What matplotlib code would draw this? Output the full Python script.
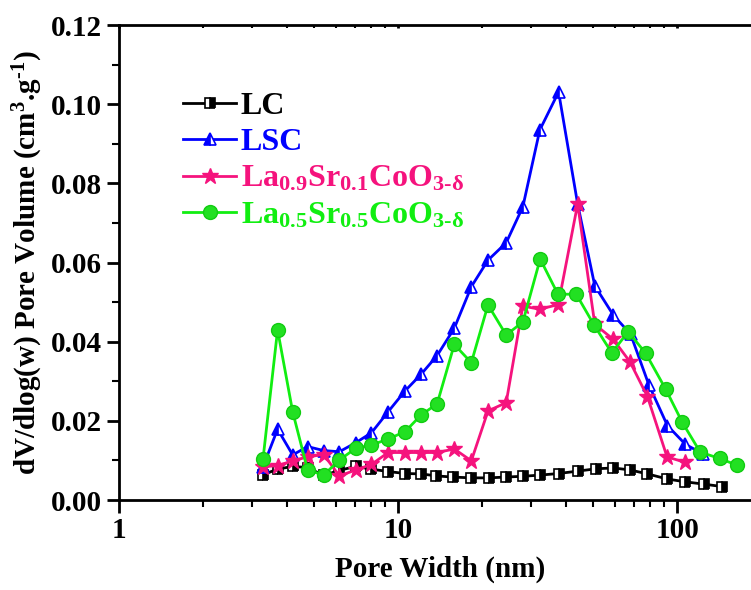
import matplotlib
matplotlib.use('Agg')
import matplotlib.pyplot as plt
from matplotlib.ticker import LogLocator, MultipleLocator, FormatStrFormatter

plt.rcParams['font.family'] = ['Liberation Serif', 'DejaVu Serif']
plt.rcParams['font.weight'] = 'bold'
plt.rcParams['mathtext.fontset'] = 'custom'
plt.rcParams['mathtext.rm'] = 'Liberation Serif:bold'
plt.rcParams['mathtext.it'] = 'Liberation Serif:bold'
plt.rcParams['mathtext.bf'] = 'Liberation Serif:bold'

# pore widths (nm)
w_lc = [3.28, 3.70, 4.19, 4.74, 5.41, 6.16, 7.06, 8.03, 9.21, 10.6, 12.1, 13.7,
        15.7, 18.3, 21.1, 24.3, 28.0, 32.3, 37.6, 44.0, 51.3, 59.1, 67.8, 78.3,
        92.3, 107, 125, 145]
v_lc = [0.0064, 0.0078, 0.0085, 0.0082, 0.0062, 0.0075, 0.0085, 0.0078, 0.0072,
        0.0067, 0.0066, 0.0061, 0.0058, 0.0056, 0.0056, 0.0058, 0.0060, 0.0063,
        0.0067, 0.0073, 0.0079, 0.0081, 0.0076, 0.0066, 0.0053, 0.0046, 0.0040,
        0.0034]

w_lsc = [3.28, 3.70, 4.19, 4.74, 5.41, 6.16, 7.06, 8.03, 9.21, 10.6, 12.1, 13.8,
         15.9, 18.3, 21.0, 24.4, 28.0, 32.2, 37.6, 44.0, 50.7, 59.1, 68.1, 79.2,
         92.3, 107, 124]
v_lsc = [0.0084, 0.0179, 0.0114, 0.0135, 0.0125, 0.0122, 0.0145, 0.0170, 0.0223,
         0.0276, 0.0318, 0.0365, 0.0434, 0.0539, 0.0606, 0.0650, 0.0741, 0.0935,
         0.1031, 0.0748, 0.0541, 0.0467, 0.0419, 0.0291, 0.0188, 0.0141, 0.0116]

w_la09 = [3.28, 3.70, 4.19, 4.74, 5.41, 6.16, 7.06, 8.03, 9.21, 10.6, 12.1, 13.8,
          15.9, 18.3, 21.0, 24.4, 28.0, 32.2, 37.5, 44.0, 50.7, 59.0, 67.8, 78.3,
          92.0, 107]
v_la09 = [0.0084, 0.0087, 0.0099, 0.0109, 0.0115, 0.0061, 0.0076, 0.0090, 0.0120,
          0.0120, 0.0120, 0.0120, 0.0129, 0.0099, 0.0225, 0.0246, 0.0490, 0.0482,
          0.0494, 0.0748, 0.0444, 0.0406, 0.0349, 0.0261, 0.0109, 0.0095]

w_la05 = [3.28, 3.70, 4.19, 4.74, 5.41, 6.16, 7.06, 8.03, 9.21, 10.6, 12.1, 13.8,
          15.9, 18.3, 21.0, 24.4, 28.0, 32.3, 37.4, 43.5, 50.4, 58.3, 66.8, 77.1,
          91.0, 104.4, 121, 142, 164]
v_la05 = [0.0103, 0.0430, 0.0223, 0.0076, 0.0063, 0.0101, 0.0131, 0.0139, 0.0154,
          0.0173, 0.0215, 0.0243, 0.0393, 0.0347, 0.0493, 0.0417, 0.0450, 0.0609,
          0.0520, 0.0520, 0.0442, 0.0372, 0.0425, 0.0371, 0.0280, 0.0196, 0.0121,
          0.0105, 0.0088]

labels = ['LC', 'LSC',
          r'La$_{0.9}$Sr$_{0.1}$CoO$_{3\text{-}\delta}$',
          r'La$_{0.5}$Sr$_{0.5}$CoO$_{3\text{-}\delta}$']
colors = ['black', '#0000ff', '#f5137d', '#11ee11']

fig = plt.figure(figsize=(7.51, 5.90), dpi=100)
ax = fig.add_axes([0.1585, 0.1525, 0.855, 0.805])

ax.plot(w_lc, v_lc, color=colors[0], lw=2, marker='s', ms=7, fillstyle='right',
        mfc='black', mfcalt='white', mec='black', mew=1.2, label=labels[0])
ax.plot(w_lsc, v_lsc, color=colors[1], lw=2, marker='^', ms=9, fillstyle='left',
        mfc=colors[1], mfcalt='white', mec=colors[1], mew=1.2, label=labels[1])
ax.plot(w_la09, v_la09, color=colors[2], lw=2, marker='*', ms=12,
        mfc=colors[2], mec=colors[2], label=labels[2])
ax.plot(w_la05, v_la05, color=colors[3], lw=2, marker='o', ms=10,
        mfc='#22e022', mec='#11cc11', label=labels[3])

ax.set_xscale('log')
ax.set_xlim(1, 200)
ax.set_ylim(0, 0.12)
ax.xaxis.set_major_locator(LogLocator(base=10, numticks=10))
ax.xaxis.set_major_formatter(FormatStrFormatter('%g'))
ax.xaxis.set_minor_locator(LogLocator(base=10, subs=range(2, 10), numticks=20))
ax.xaxis.set_minor_formatter(plt.NullFormatter())
ax.yaxis.set_major_locator(MultipleLocator(0.02))
ax.yaxis.set_minor_locator(MultipleLocator(0.01))
ax.yaxis.set_major_formatter(FormatStrFormatter('%.2f'))

for s in ax.spines.values():
    s.set_linewidth(2)
ax.tick_params(which='major', direction='out', length=9, width=2, labelsize=21,
               top=False, right=False)
ax.tick_params(which='minor', direction='out', length=5, width=1.5,
               top=False, right=False)
# faint inward ticks on the top frame
ax.tick_params(axis='x', which='both', top=True, labeltop=False)
for t in ax.xaxis.get_major_ticks() + ax.xaxis.get_minor_ticks():
    t.tick2line.set_markersize(2)
    t.tick2line.set_marker(3)

ax.set_xlabel('Pore Width (nm)', fontsize=21, fontweight='bold', labelpad=8)
ax.set_ylabel(r'dV/dlog(w) Pore Volume (cm$^{3}$.g$^{\text{-}1}$)', fontsize=21,
              fontweight='bold', labelpad=4)

leg = ax.legend(loc='upper left', bbox_to_anchor=(0.1, 0.86), frameon=False,
                fontsize=23, handlelength=1.65, handletextpad=0.15,
                labelspacing=0.22, borderpad=0, borderaxespad=0)
for txt, c in zip(leg.get_texts(), colors):
    txt.set_color(c)

fig.savefig('out.png', dpi=100)
